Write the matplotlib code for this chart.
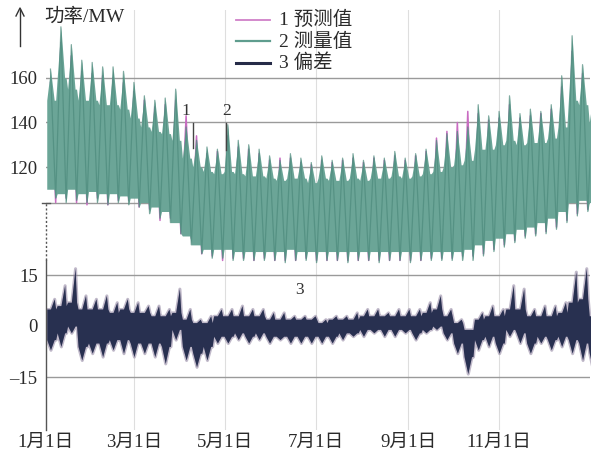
import numpy as np
import matplotlib
matplotlib.use("Agg")
import matplotlib.pyplot as plt
from matplotlib.lines import Line2D

# ---------------- data (weekly resolution) ----------------
# measured power (MW): weekly tooth top, notch between teeth, band bottom, weekend dip
meas_peak = [164, 183, 175, 168, 167, 165, 165, 163, 158, 152, 150, 151, 155, 138,
             132, 129, 128, 139, 132, 130, 128, 125, 123, 126, 124, 122, 125, 123,
             124, 126, 123, 125, 124, 127, 124, 126, 128, 132, 135, 136, 138, 148,
             143, 145, 152, 144, 146, 145, 148, 161, 179, 166, 152]
meas_notch = [150, 160, 155, 150, 150, 148, 148, 146, 142, 138, 136, 135, 132, 124,
              120, 118, 117, 118, 117, 116, 116, 115, 114, 115, 115, 113, 115, 114,
              114, 115, 114, 115, 115, 116, 115, 116, 117, 118, 120, 121, 123, 128,
              128, 130, 132, 130, 131, 131, 133, 138, 150, 148, 140]
meas_base = [110, 108, 110, 108, 109, 108, 108, 107, 106, 104, 102, 100, 95, 89,
             85, 83, 83, 83, 82, 82, 82, 82, 82, 83, 82, 82, 82, 82,
             82, 82, 82, 82, 82, 82, 82, 82, 82, 82, 82, 82, 83, 85,
             87, 88, 90, 92, 93, 95, 97, 100, 104, 105, 104]
meas_dip = [106, 104, 105, 104, 104, 103, 104, 103, 102, 99, 97, 95, 90, 85,
            81, 79, 79, 78, 78, 78, 78, 78, 77, 78, 78, 77, 78, 78,
            77, 78, 78, 77, 78, 78, 77, 78, 78, 78, 78, 78, 78, 80,
            82, 84, 86, 88, 89, 90, 92, 95, 98, 100, 99]
# forecast power (MW): weekly top / weekly bottom
fore_peak = [158, 176, 170, 163, 162, 161, 160, 158, 154, 150, 147, 148, 150, 143,
             134, 126, 127, 134, 129, 128, 126, 123, 124, 124, 122, 121, 123, 122,
             123, 124, 122, 124, 123, 125, 123, 125, 127, 133, 136, 140, 145, 144,
             141, 142, 148, 142, 143, 144, 146, 156, 172, 162, 150]
fore_low = [104, 106, 104, 103, 106, 103, 105, 105, 102, 101, 96, 97, 90, 88,
            81, 80, 78, 79, 79, 78, 79, 78, 78, 78, 79, 78, 78, 78,
            78, 78, 78, 78, 78, 78, 78, 78, 79, 79, 79, 80, 80, 81,
            83, 85, 87, 89, 90, 91, 93, 96, 99, 101, 100]
# deviation (MW): spike top, core top, core bottom, dip bottom
dev_high = [8, 12, 17, 9, 8, 9, 7, 8, 7, 6, 6, 5, 11, 5, 2, 3, 5, 5, 6, 5, 5,
            4, 4, 3, 3, 3, 2, 3, 3, 4, 5, 5, 4, 5, 5, 5, 7, 9, 5, 2, -1, 4,
            6, 5, 12, 11, 5, 6, 6, 7, 16, 17, 5]
dev_core_hi = [5, 6, 7, 5, 5, 5, 4, 5, 4, 4, 3, 3, 4, 2, 1, 1, 3, 3, 3, 3, 3,
               2, 2, 2, 2, 2, 1, 2, 2, 2, 3, 3, 3, 3, 3, 3, 4, 5, 3, 1, -1, 2,
               3, 3, 5, 5, 3, 3, 3, 4, 7, 8, 3]
dev_core_lo = [-4, -2, 0, -6, -5, -5, -4, -4, -5, -5, -5, -6, -1, -6, -8, -6,
               -3, -3, -2, -3, -2, -3, -3, -3, -3, -3, -3, -3, -2, -2, -1, -1,
               -1, -1, -1, -2, -1, 0, -2, -5, -9, -4, -3, -5, -1, -2, -5, -3,
               -4, -3, -4, -5, -8]
dev_low = [-7, -6, -2, -10, -8, -9, -7, -8, -9, -8, -9, -11, -4, -10, -12, -10,
           -5, -5, -4, -5, -4, -5, -4, -5, -5, -5, -5, -5, -4, -3, -3, -2, -3,
           -3, -2, -4, -2, -1, -4, -8, -14, -7, -6, -8, -3, -5, -8, -5, -7, -6,
           -8, -10, -13]

month_days = [0, 59, 120, 181, 243, 304]
month_labels = ["1月1日", "3月1日", "5月1日", "7月1日", "9月1日", "11月1日"]
top_ticks = [120, 140, 160]
bot_ticks = [-15, 0, 15]
bot_labels = ["–15", "0", "15"]

# ---------------- weekly shapes ----------------
weeks = np.arange(len(meas_peak)) * 7.0
offs = np.array([0.5, 3.0, 5.5, 6.5])
xg = (weeks[:, None] + offs[None, :]).ravel()


def per_week(*cols):
    return np.column_stack(cols).ravel()


top_upper = per_week(meas_notch, meas_peak, meas_notch, meas_notch)
top_lower = per_week(meas_base, meas_base, meas_base, meas_dip)

zz_x = np.empty(2 * len(weeks))
zz_x[0::2] = weeks + 3.0
zz_x[1::2] = weeks + 6.5


def zig(a, b):
    y = np.empty(2 * len(a))
    y[0::2] = a
    y[1::2] = b
    return y


W, H = 592, 461
fig = plt.figure(figsize=(W / 100, H / 100), dpi=100)
fig.patch.set_facecolor("white")

ax_left, ax_right, ax_topy, ax_boty = 46, 590, 10, 430
pos = [ax_left / W, 1 - ax_boty / H, (ax_right - ax_left) / W, (ax_boty - ax_topy) / H]
s_top = (167 - 78) / 40.0
top_ylim = (120 - (ax_boty - 167) / s_top, 160 + (78 - ax_topy) / s_top)
s_bot = (377 - 275) / 30.0
bot_ylim = (-15 - (ax_boty - 377) / s_bot, 15 + (275 - ax_topy) / s_bot)

ax_b = fig.add_axes(pos)
ax_t = fig.add_axes(pos)
serif = ["Liberation Serif", "Noto Sans CJK SC"]

for ax, yl in ((ax_t, top_ylim), (ax_b, bot_ylim)):
    ax.set_xlim(0, 365)
    ax.set_ylim(*yl)
    ax.patch.set_alpha(0)
    for s in ax.spines.values():
        s.set_visible(False)

for d in month_days[1:]:
    ax_b.axvline(d, color="#dedede", lw=0.8, zorder=0)

grid_c = "#9a9a9a"
for v in (104, 120, 140, 160):
    ax_t.axhline(v, color=grid_c, lw=1.0, zorder=1)
for v in (15, -15):
    ax_b.axhline(v, color=grid_c, lw=1.0, zorder=1)

ax_b.plot([0, 0], [bot_ylim[0], 19.5], color="#555555", lw=1.0, clip_on=False, zorder=6)
ax_t.plot([0, 0], [78, 104], color="#555555", lw=1.0, ls=(0, (1.5, 1.5)), clip_on=False, zorder=6)
ax_t.plot([-2.5, 2.5], [104, 104], color="#555555", lw=1.0, clip_on=False, zorder=6)

# top panel: forecast underneath, measured band on top
ax_t.plot(zz_x, zig(fore_peak, fore_low), color="#c96cc2", lw=1.1, zorder=2)
ax_t.fill_between(xg, top_lower, top_upper, color="#6ba597", lw=0, zorder=3)
ax_t.plot(zz_x, zig(meas_peak, meas_dip), color="#4d8a7c", lw=0.9, alpha=0.7, zorder=4)

# bottom panel: deviation band
dev_upper = per_week(dev_core_hi, dev_core_hi, dev_high, dev_core_hi)
dev_lower = per_week(dev_core_lo, dev_low, dev_core_lo, dev_core_lo)
ax_b.fill_between(xg, dev_lower, dev_upper, color="#8d809e", alpha=0.55, lw=2.2,
                  edgecolor="#8d809e", zorder=3)
ax_b.fill_between(xg, dev_lower, dev_upper, color="#283050", lw=0, zorder=4)

ax_t.set_xticks([])
ax_t.set_yticks(top_ticks)
ax_t.set_yticklabels([str(v) for v in top_ticks])
ax_b.set_yticks(bot_ticks)
ax_b.set_yticklabels(bot_labels)
ax_b.set_xticks(month_days)
ax_b.set_xticklabels(month_labels)
for ax in (ax_t, ax_b):
    ax.tick_params(axis="y", length=0, pad=6, labelsize=13.5, labelcolor="#2a2a2a")
    ax.tick_params(axis="x", length=0, pad=3, labelsize=13.5, labelcolor="#2a2a2a")
    for lab in ax.get_xticklabels() + ax.get_yticklabels():
        lab.set_family(serif)


def fp(x, y):
    return (x / W, 1 - y / H)


fig.add_artist(Line2D([20 / W, 20 / W], [1 - 46 / H, 1 - 10 / H], color="#333333", lw=1.0))
fig.add_artist(Line2D([16 / W, 20 / W, 24 / W], [1 - 16 / H, 1 - 8 / H, 1 - 16 / H], color="#333333", lw=1.0))
fig.text(*fp(44, 17), "功率/MW", fontsize=14, family=serif, color="#2a2a2a", va="center", ha="left")

leg_items = [("1 预测值", "#d080c8", 1.3), ("2 测量值", "#5f9d8e", 1.6), ("3 偏差", "#262b48", 2.2)]
for i, (lab, c, lw) in enumerate(leg_items):
    y = 20 + i * 21.5
    fig.add_artist(Line2D([236 / W, 270 / W], [1 - y / H, 1 - y / H], color=c, lw=lw))
    fig.text(*fp(279, y), lab, fontsize=14, family=serif, color="#2a2a2a", va="center", ha="left")

fig.text(*fp(186, 111), "1", fontsize=12.5, family=serif, color="#333333", ha="center", va="center")
fig.text(*fp(227, 111), "2", fontsize=12.5, family=serif, color="#333333", ha="center", va="center")
fig.text(*fp(300, 290), "3", fontsize=12.5, family=serif, color="#333333", ha="center", va="center")
fig.add_artist(Line2D([193 / W, 193 / W], [1 - 123 / H, 1 - 148 / H], color="#444444", lw=1.0))
fig.add_artist(Line2D([226 / W, 226 / W], [1 - 123 / H, 1 - 150 / H], color="#444444", lw=1.0))

fig.savefig("out.png", dpi=100, facecolor="white")
